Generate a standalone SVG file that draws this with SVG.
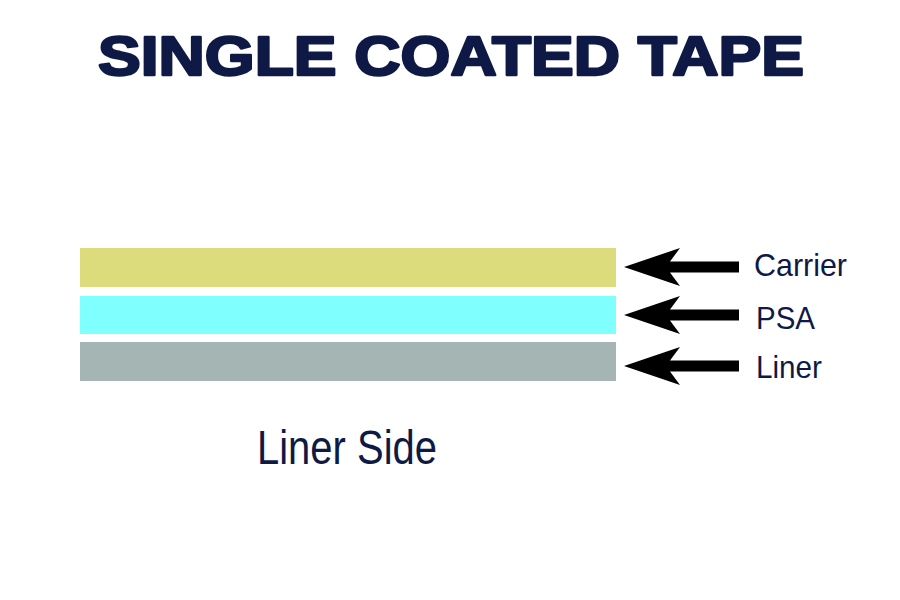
<svg xmlns="http://www.w3.org/2000/svg" xmlns:xlink="http://www.w3.org/1999/xlink" width="900" height="600" viewBox="0 0 900 600">
<style>
.title{font-family:"Liberation Sans",Arial,sans-serif;font-weight:bold;font-size:55px;fill:#0e1a45;stroke:#0e1a45;stroke-width:2.4px;stroke-linejoin:round}
.lbl{font-family:"Liberation Sans",Arial,sans-serif;font-size:32px;fill:#0e1a45}
.side{font-family:"Liberation Sans",Arial,sans-serif;font-size:49px;fill:#0e1a45}
.arrow{fill:#000}
</style>
<defs>
<path id="arr" d="M0,0 L56,-19 L46,-5.5 L115,-5.5 L115,5.5 L46,5.5 L56,19 Z"/>
</defs>
<rect width="900" height="600" fill="#fff"/>
<g id="title"><text class="title" x="98" y="75" textLength="706" lengthAdjust="spacingAndGlyphs">SINGLE COATED TAPE</text></g>
<g id="carrier"><rect x="80" y="248" width="536" height="39" fill="#dcdc7c"/><text class="lbl" x="754" y="276" textLength="93" lengthAdjust="spacingAndGlyphs">Carrier</text></g>
<g id="psa"><rect x="80" y="296" width="536" height="38" fill="#80ffff"/><text class="lbl" x="756" y="329" textLength="59" lengthAdjust="spacingAndGlyphs">PSA</text></g>
<g id="liner"><rect x="80" y="342" width="536" height="39" fill="#a5b5b3"/><text class="lbl" x="756" y="378" textLength="66" lengthAdjust="spacingAndGlyphs">Liner</text></g>
<g id="connectors" class="arrow">
<use xlink:href="#arr" href="#arr" transform="translate(624,267)"/>
<use xlink:href="#arr" href="#arr" transform="translate(624,315)"/>
<use xlink:href="#arr" href="#arr" transform="translate(624,366)"/>
</g>
<g id="liner-side"><text class="side" x="257" y="464" textLength="180" lengthAdjust="spacingAndGlyphs">Liner Side</text></g>
</svg>
